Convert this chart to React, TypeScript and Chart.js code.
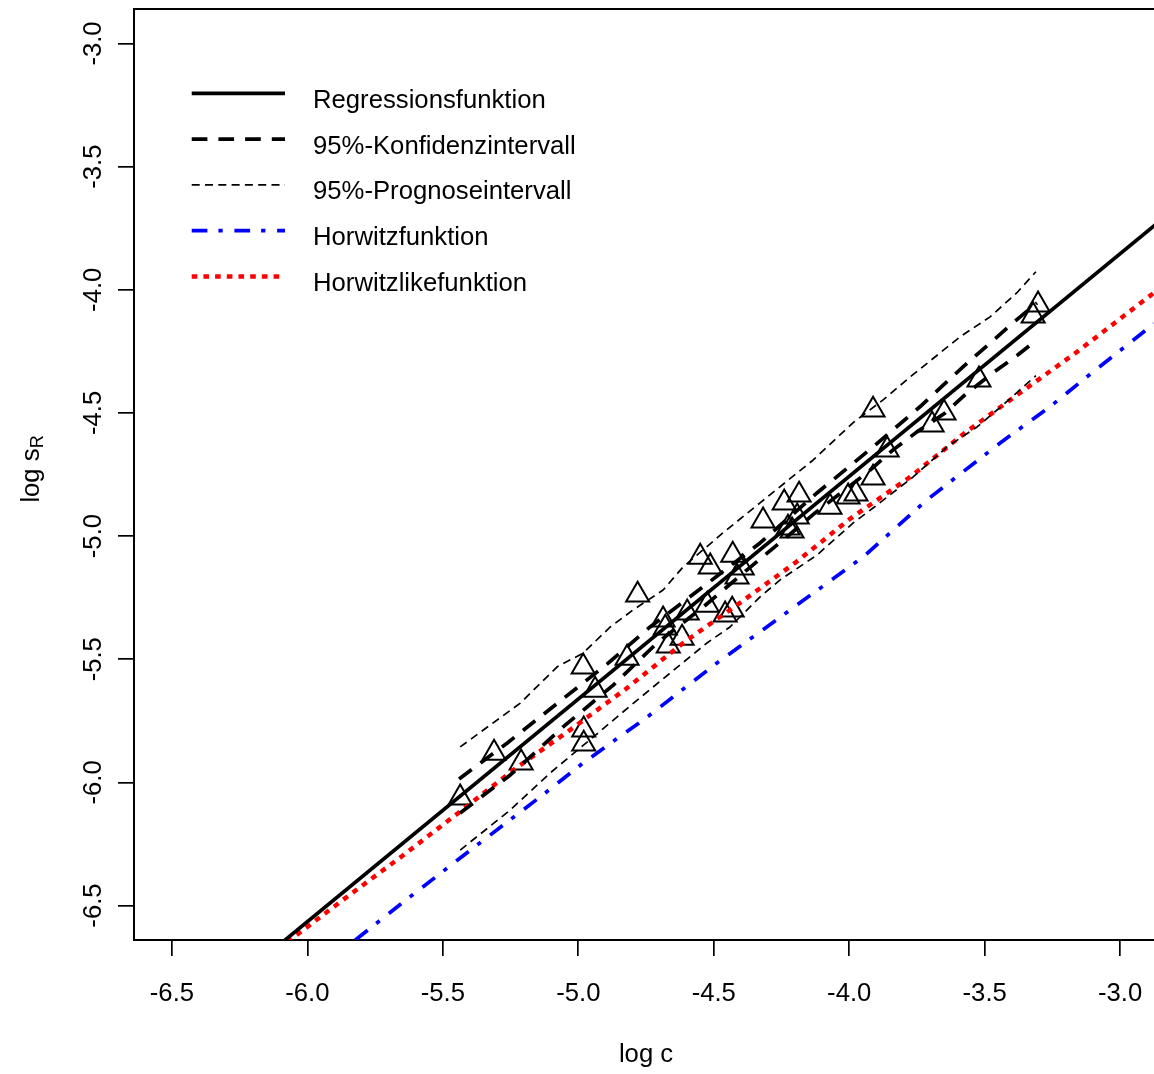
import React, { useEffect, useRef } from 'react';
import { Chart, registerables } from 'chart.js';

Chart.register(...registerables);

// ---------- data ----------
const xTicks = [-6.5, -6.0, -5.5, -5.0, -4.5, -4.0, -3.5, -3.0];
const yTicks = [-3.0, -3.5, -4.0, -4.5, -5.0, -5.5, -6.0, -6.5];

const pointsX = [-5.436, -5.311, -5.211, -4.982, -4.980, -4.980, -4.938, -4.820, -4.781, -4.687, -4.679, -4.668, -4.617, -4.598, -4.550, -4.513, -4.524, -4.458, -4.432, -4.430, -4.414, -4.395, -4.318, -4.240, -4.185, -4.192, -4.211, -4.226, -4.071, -4.004, -3.975, -3.912, -3.912, -3.860, -3.694, -3.650, -3.521, -3.303, -3.321];
const pointsY = [-6.063, -5.881, -5.921, -5.531, -5.787, -5.844, -5.625, -5.495, -5.239, -5.340, -5.373, -5.446, -5.414, -5.312, -5.085, -5.125, -5.280, -5.320, -5.300, -5.077, -5.166, -5.129, -4.938, -4.865, -4.833, -4.922, -4.979, -4.967, -4.882, -4.841, -4.829, -4.764, -4.488, -4.650, -4.548, -4.500, -4.366, -4.061, -4.106];

const regX = [-6.10, -2.87];
const regY = [-6.656, -3.736];

const confUpX = [-5.440, -5.262, -5.067, -4.893, -4.735, -4.525, -4.329, -4.119, -3.912, -3.739, -3.580, -3.395, -3.307];
const confUpY = [-5.986, -5.840, -5.670, -5.519, -5.369, -5.194, -5.028, -4.825, -4.638, -4.475, -4.313, -4.134, -4.053];
const confLoX = [-5.436, -5.251, -5.056, -4.871, -4.709, -4.539, -4.377, -4.244, -4.126, -3.930, -3.838, -3.750, -3.646, -3.573, -3.469, -3.377, -3.307];
const confLoY = [-6.124, -5.970, -5.775, -5.605, -5.434, -5.288, -5.137, -5.016, -4.906, -4.739, -4.650, -4.577, -4.500, -4.427, -4.337, -4.264, -4.203];

const predUpX = [-5.436, -5.214, -5.078, -4.982, -4.882, -4.798, -4.687, -4.613, -4.466, -4.329, -4.133, -3.986, -3.875, -3.775, -3.591, -3.480, -3.381, -3.311];
const predUpY = [-5.856, -5.678, -5.531, -5.475, -5.369, -5.300, -5.219, -5.125, -4.987, -4.865, -4.691, -4.540, -4.447, -4.354, -4.191, -4.110, -4.012, -3.927];
const predLoX = [-5.436, -5.251, -5.104, -4.945, -4.809, -4.661, -4.525, -4.440, -4.329, -4.255, -4.119, -3.986, -3.912, -3.764, -3.639, -3.528, -3.432, -3.311];
const predLoY = [-6.275, -6.112, -5.962, -5.816, -5.690, -5.556, -5.434, -5.369, -5.247, -5.178, -5.077, -4.947, -4.886, -4.760, -4.638, -4.557, -4.467, -4.349];

const horwitzX = [-5.823, -5.646, -5.436, -5.122, -4.982, -4.746, -4.488, -4.218, -3.949, -3.713, -3.443, -3.259, -3.137, -2.875];
const horwitzY = [-6.640, -6.486, -6.307, -6.043, -5.921, -5.735, -5.515, -5.300, -5.085, -4.853, -4.622, -4.475, -4.366, -4.138];

const horwitzLikeX = [-6.074, -5.860, -5.650, -5.443, -5.240, -5.030, -4.820, -4.613, -4.403, -4.200, -3.997, -3.775, -3.573, -3.370, -3.159, -2.875];
const horwitzLikeY = [-6.648, -6.470, -6.299, -6.124, -5.950, -5.787, -5.617, -5.434, -5.271, -5.109, -4.930, -4.760, -4.581, -4.419, -4.252, -4.012];

const legendLabels = ['Regressionsfunktion', '95%-Konfidenzintervall', '95%-Prognoseintervall', 'Horwitzfunktion', 'Horwitzlikefunktion'];
const xTitle = 'log c';
const yTitleMain = 'log s';
const yTitleSub = 'R';

// ---------- styles ----------
const FONT = '"Liberation Sans", Arial, Helvetica, sans-serif';
const FS = 25.7;
const styles = [
  { color: '#000000', width: 3.7, dash: [] as number[] },
  { color: '#000000', width: 3.7, dash: [15.7, 11] },
  { color: '#000000', width: 1.7, dash: [8, 5.3] },
  { color: '#0000ff', width: 3.7, dash: [15.7, 11, 4.3, 11.7] },
  { color: '#ff0000', width: 4.5, dash: [5.6, 6.1] },
];

export default function App() {
  const ref = useRef<HTMLCanvasElement>(null);

  useEffect(() => {
    const canvas = ref.current;
    if (!canvas) return;
    const zip = (xs: number[], ys: number[]) => xs.map((x, i) => ({ x, y: ys[i] }));
    const lineDs = (label: string, xs: number[], ys: number[], s: any) => ({
      label,
      data: zip(xs, ys),
      showLine: true,
      pointRadius: 0,
      pointHoverRadius: 0,
      borderColor: s.color,
      backgroundColor: s.color,
      borderWidth: s.width,
      borderDash: s.dash,
      borderCapStyle: 'butt',
      borderJoinStyle: 'round',
      tension: 0,
      fill: false,
      clip: 0,
    });

    const decor = {
      id: 'decor',
      afterDraw(chart: any) {
        const ctx = chart.ctx;
        const area = chart.chartArea;
        const xs = chart.scales.x;
        const ys = chart.scales.y;
        ctx.save();
        // top frame line
        ctx.strokeStyle = '#000';
        ctx.lineWidth = 2;
        ctx.setLineDash([]);
        ctx.beginPath();
        ctx.moveTo(area.left - 1, area.top);
        ctx.lineTo(area.right, area.top);
        ctx.stroke();

        ctx.fillStyle = '#000';
        ctx.font = `${FS}px ${FONT}`;
        // x tick labels
        ctx.textAlign = 'center';
        ctx.textBaseline = 'alphabetic';
        xTicks.forEach((v) => {
          ctx.fillText(v.toFixed(1), xs.getPixelForValue(v), 1001);
        });
        // y tick labels (rotated)
        yTicks.forEach((v) => {
          ctx.save();
          ctx.translate(100.5, ys.getPixelForValue(v));
          ctx.rotate(-Math.PI / 2);
          ctx.fillText(v.toFixed(1), 0, 0);
          ctx.restore();
        });
        // x title
        ctx.fillText(xTitle, (area.left + xs.getPixelForValue(-2.86)) / 2, 1062);
        // y title with subscript
        ctx.save();
        ctx.translate(39, 469);
        ctx.rotate(-Math.PI / 2);
        ctx.textAlign = 'left';
        const w1 = ctx.measureText(yTitleMain).width;
        ctx.font = `${FS * 0.7}px ${FONT}`;
        const w2 = ctx.measureText(yTitleSub).width;
        const start = -(w1 + w2) / 2;
        ctx.font = `${FS}px ${FONT}`;
        ctx.fillText(yTitleMain, start, 0);
        ctx.font = `${FS * 0.7}px ${FONT}`;
        ctx.fillText(yTitleSub, start + w1, 4);
        ctx.restore();

        // legend
        ctx.font = `${FS}px ${FONT}`;
        ctx.textAlign = 'left';
        legendLabels.forEach((lab, i) => {
          const y = 93.3 + i * 45.8;
          const s = styles[i];
          ctx.save();
          ctx.strokeStyle = s.color;
          ctx.lineWidth = s.width;
          ctx.lineCap = 'butt';
          ctx.setLineDash(s.dash);
          ctx.beginPath();
          ctx.moveTo(191.7, y);
          ctx.lineTo(285, y);
          ctx.stroke();
          ctx.restore();
          ctx.fillText(lab, 313, y + 14.5);
        });
        ctx.restore();
      },
    };

    const chart = new Chart(canvas, {
      type: 'scatter',
      data: {
        datasets: [
          {
            label: 'Messwerte',
            data: zip(pointsX, pointsY),
            pointStyle: 'triangle',
            pointRadius: 13.3,
            pointHoverRadius: 13.3,
            pointBorderWidth: 2,
            borderColor: '#000',
            backgroundColor: 'rgba(0,0,0,0)',
            showLine: false,
            order: 6,
          } as any,
          { ...lineDs(legendLabels[0], regX, regY, styles[0]), order: 1 },
          { ...lineDs(legendLabels[1], confUpX, confUpY, styles[1]), order: 2 },
          { ...lineDs(legendLabels[1] + ' (unten)', confLoX, confLoY, styles[1]), order: 2 },
          { ...lineDs(legendLabels[2], predUpX, predUpY, styles[2]), order: 3 },
          { ...lineDs(legendLabels[2] + ' (unten)', predLoX, predLoY, styles[2]), order: 3 },
          { ...lineDs(legendLabels[3], horwitzX, horwitzY, styles[3]), order: 4 },
          { ...lineDs(legendLabels[4], horwitzLikeX, horwitzLikeY, styles[4]), order: 5 },
        ] as any,
      },
      options: {
        responsive: false,
        animation: false,
        devicePixelRatio: 1,
        events: [],
        layout: { autoPadding: false, padding: { top: 9, left: 0, right: 0, bottom: 0 } },
        plugins: { legend: { display: false }, tooltip: { enabled: false }, title: { display: false } },
        scales: {
          x: {
            type: 'linear',
            position: 'bottom',
            min: -6.64,
            max: -2.875,
            afterBuildTicks: (s: any) => { s.ticks = xTicks.map((v) => ({ value: v })); },
            afterFit: (s: any) => { s.height = 134; },
            ticks: { display: false },
            grid: { display: true, drawOnChartArea: false, drawTicks: true, tickLength: 16, color: '#000', tickColor: '#000', tickWidth: 1.7, lineWidth: 1.7 },
            border: { display: true, color: '#000', width: 2 },
          },
          y: {
            type: 'linear',
            position: 'left',
            min: -6.64,
            max: -2.86,
            afterBuildTicks: (s: any) => { s.ticks = yTicks.map((v) => ({ value: v })); },
            afterFit: (s: any) => { s.width = 134; },
            ticks: { display: false },
            grid: { display: true, drawOnChartArea: false, drawTicks: true, tickLength: 16, color: '#000', tickColor: '#000', tickWidth: 1.7, lineWidth: 1.7 },
            border: { display: true, color: '#000', width: 2 },
          },
        },
      } as any,
      plugins: [decor],
    });
    return () => chart.destroy();
  }, []);

  return (
    <div style={{ position: 'fixed', left: 0, top: 0, width: 1154, height: 1074, background: '#ffffff', overflow: 'hidden' }}>
      <canvas ref={ref} width={1154} height={1074} style={{ display: 'block', width: 1154, height: 1074 }} />
    </div>
  );
}
